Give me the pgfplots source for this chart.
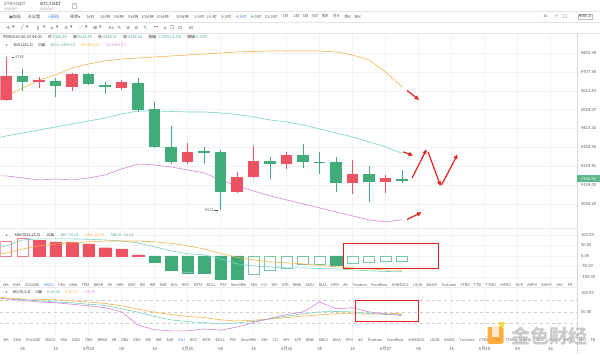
\documentclass[border=0pt]{standalone}
\usepackage{fontspec}
\setmainfont{Noto Sans CJK SC}
\newfontfamily\sym{DejaVu Sans}
\usepackage{pgfplots}
\usepackage{pgfplotstable}
\pgfplotsset{compat=1.18}
\usetikzlibrary{arrows.meta}
\definecolor{cred}{HTML}{EC5363}
\definecolor{cgreen}{HTML}{41AC7A}
\definecolor{cteal}{HTML}{77D2C4}
\definecolor{corange}{HTML}{F4B54A}
\definecolor{cpink}{HTML}{DA84DA}
\definecolor{cgrid}{HTML}{F1F3F5}
\definecolor{ctext}{HTML}{5A5A5A}
\definecolor{cblue}{HTML}{3D7EE6}
\definecolor{ared}{HTML}{E2231D}
\newcommand\fs[1]{\fontsize{#1}{#1}\selectfont}

% candles: i open high low close
\pgfplotstableread{
i o h l c
0 9566.7 9783.0 9560.0 9687.4
2 9657.3 9682.4 9627.1 9667.3
4 9632.1 9702.5 9612.0 9697.5
7 9627.1 9667.3 9617.0 9657.3
11 9254.9 9350.4 9244.8 9305.2
14 9104.0 9204.6 9100.0 9179.4
15 9179.4 9335.3 9175.0 9259.9
17 9244.8 9305.2 9219.6 9290.1
21 9149.2 9264.9 9093.9 9194.5
23 9154.3 9189.5 9098.9 9174.4
}\redc
\pgfplotstableread{
i o h l c
1 9687.4 9722.6 9612.0 9657.3
3 9662.3 9677.4 9581.8 9637.1
5 9697.5 9702.5 9642.2 9647.2
6 9642.2 9657.3 9596.9 9632.1
8 9652.2 9677.4 9506.4 9516.4
9 9521.4 9556.6 9325.3 9330.3
10 9330.3 9435.9 9244.8 9254.9
12 9310.2 9330.3 9244.8 9300.1
13 9305.2 9315.2 9011.0 9104.0
16 9259.9 9280.0 9169.3 9244.8
18 9290.1 9345.4 9224.7 9254.9
19 9254.9 9305.2 9194.5 9249.8
20 9254.9 9280.0 9104.0 9149.2
22 9194.5 9234.7 9053.6 9154.3
24 9166.86 9216.45 9148.67 9164.33
}\greenc
\pgfplotstableread{
i ub mid lb
-0.4 9569.2 9378.1 9184.4
0 9586.8 9385.6 9184.4
1 9627.1 9400.7 9174.4
2 9667.3 9415.8 9164.3
3 9692.5 9430.9 9169.3
4 9727.5 9446.0 9164.3
5 9747.8 9461.1 9174.4
6 9762.9 9476.2 9189.5
7 9772.9 9496.3 9219.6
8 9778.0 9511.4 9244.8
9 9783.0 9511.4 9239.8
10 9788.0 9508.9 9229.7
11 9793.1 9506.4 9214.6
12 9798.1 9506.4 9199.5
13 9803.1 9501.3 9164.3
14 9808.2 9493.8 9134.1
15 9810.7 9481.2 9109.0
16 9813.2 9466.1 9083.8
17 9813.2 9456.1 9063.7
18 9813.2 9441.0 9043.6
19 9813.2 9420.9 9023.4
20 9808.2 9400.7 9003.3
21 9793.1 9380.6 8983.2
22 9767.9 9355.5 8963.1
23 9707.6 9330.3 8953.1
24 9632.27 9298.44 8964.51
}\boll
\pgfplotstableread{
i dif dea
-0.4 40 8
0 48 14
1 76 33
2 81 48
3 81 57
4 81 62
5 79 67
6 76 71
7 71 71
8 62 71
9 43 67
10 24 60
11 10 48
12 5 33
13 -14 12
14 -38 -7
15 -48 -19
16 -52 -29
17 -57 -33
18 -57 -38
19 -60 -45
20 -62 -52
21 -67 -57
22 -71 -62
23 -74 -67
24 -75.63 -68.59
}\macdl
\pgfplotstableread{
i k d j
-0.4 85 88 85
0 84 87 84
1 82 84 80
2 79 83 76
3 76 82 74
4 74 79 70
5 70 76 66
6 67 72 61
7 58 66 50
8 49 57 15
9 38 49 3
10 29 43 0
11 24 38 0
12 22 35 5
13 18 29 2
14 21 26 10
15 25 28 22
16 32 31 33
17 39 35 43
18 45 39 50
19 50 42 76
20 51 45 58
21 50 45 61
22 46 44 50
23 43 45 45
24 43.56 46.17 39.76
}\kdj

\pgfplotsset{panel/.style={scale only axis, width=577pt, xmin=-0.3636, xmax=34.606,
  axis line style={draw=none}, major tick length=0pt,
  xtick={1,3,...,33}, xticklabels={}, xmajorgrids, ymajorgrids,
  grid style={cgrid, line width=0.5pt},
  yticklabel pos=right,
  yticklabel style={font=\fs{4.2}, text=ctext, anchor=west, xshift=0.5pt}},
  candle/.style={draw=none, mark=none, error bars/.cd, y dir=both, y explicit, error mark=none,
  error bar style={line width=#1}}}

\begin{document}
\begin{tikzpicture}
\begin{scope}[x=1pt,y=-1pt]
\path[use as bounding box] (0,0) rectangle (600,354);
\clip (0,0) rectangle (600,354);
\fill[white] (0,0) rectangle (600,354);
\end{scope}

% ---------- main price panel
\begin{axis}[panel, at={(0pt,-34pt)}, anchor=north west, height=193pt,
  ymin=8927.9, ymax=9898.7,
  ytick={9044.29,9139.05,9233.81,9328.56,9423.32,9518.07,9612.83,9707.58,9802.34},
  yticklabels={9044.29,9139.05,9233.81,9328.56,9423.32,9518.07,9612.83,9707.58,9802.34}]
\addplot[corange, line width=0.6pt] table[x=i,y=ub]{\boll};
\addplot[cteal, line width=0.6pt] table[x=i,y=mid]{\boll};
\addplot[cpink, line width=0.6pt] table[x=i,y=lb]{\boll};
% wicks
\addplot[candle=0.7pt, error bar style={draw=cred}]
  table[x=i, y expr={(\thisrow{h}+\thisrow{l})/2}, y error expr={(\thisrow{h}-\thisrow{l})/2}]{\redc};
\addplot[candle=0.7pt, error bar style={draw=cgreen}]
  table[x=i, y expr={(\thisrow{h}+\thisrow{l})/2}, y error expr={(\thisrow{h}-\thisrow{l})/2}]{\greenc};
% bodies
\addplot[candle=11.5pt, error bar style={draw=cred}]
  table[x=i, y expr={(\thisrow{o}+\thisrow{c})/2}, y error expr={max(abs(\thisrow{o}-\thisrow{c})/2,2.5)}]{\redc};
\addplot[candle=11.5pt, error bar style={draw=cgreen}]
  table[x=i, y expr={(\thisrow{o}+\thisrow{c})/2}, y error expr={max(abs(\thisrow{o}-\thisrow{c})/2,2.5)}]{\greenc};
\draw[ctext, line width=0.4pt] (axis cs:0.36,9783) -- (axis cs:0.5,9783) node[right, inner sep=0.6pt, font=\fs{3.8}, text=ctext]{9783};
\draw[ctext, line width=0.4pt] (axis cs:12.85,9011) -- (axis cs:12.62,9011) node[left, inner sep=0.6pt, font=\fs{3.8}, text=ctext]{9011};
\end{axis}

% ---------- MACD panel
\begin{axis}[panel, at={(0pt,-228pt)}, anchor=north west, height=55pt,
  ymin=-128.5, ymax=133.3,
  ytick={-100,-50,0,50,100}, yticklabels={-100.00,-50.00,0.00,50.00,100.00}]
\addplot[ybar, bar width=11.5pt, bar shift=0pt, fill=cred, draw=cred] coordinates
 {(2,74) (3,67) (4,65) (5,57) (6,39) (7,33) (8,5)};
\addplot[ybar, bar width=10.9pt, bar shift=0pt, fill=white, draw=cred!75, line width=0.6pt] coordinates
 {(0,71) (1,86)};
\addplot[ybar, bar width=11.5pt, bar shift=0pt, fill=cgreen, draw=cgreen] coordinates
 {(9,-30) (10,-67) (11,-80) (12,-82) (13,-110) (14,-110) (20,-43)};
\addplot[ybar, bar width=10.9pt, bar shift=0pt, fill=white, draw=cgreen!70, line width=0.6pt] coordinates
 {(15,-87) (16,-68) (17,-58) (18,-40) (19,-40) (21,-35) (22,-31) (23,-27) (24,-24.04)};
\addplot[cteal, line width=0.6pt] table[x=i,y=dif]{\macdl};
\addplot[corange, line width=0.6pt] table[x=i,y=dea]{\macdl};
\end{axis}

% ---------- KDJ panel
\begin{axis}[panel, at={(0pt,-287pt)}, anchor=north west, height=47pt,
  ymin=-7.9, ymax=115.8, ymajorgrids=false,
  ytick={50,100}, yticklabels={50.00,100.00},
  extra y ticks={20,50,80}, extra y tick labels={},
  extra y tick style={grid=major, major grid style={dashed, draw=gray!40, line width=0.5pt}},
  xticklabels={08,16,6月24,08,16,6月25,08,16,6月26,08,16,6月27,08,16,6月28,08,16},
  xticklabel style={font=\fs{4.2}, text=ctext, yshift=-10pt}]
\addplot[corange, line width=0.6pt] table[x=i,y=d]{\kdj};
\addplot[cteal, line width=0.6pt] table[x=i,y=k]{\kdj};
\addplot[cpink, line width=0.6pt] table[x=i,y=j]{\kdj};
\end{axis}

% ---------- overlays (pixel coordinates)
\begin{scope}[x=1pt,y=-1pt]
\clip (0,0) rectangle (600,354);
% separators
\draw[gray!22, line width=0.5pt] (0,11.7) -- (600,11.7);
\draw[gray!22, line width=0.5pt] (0,22.7) -- (600,22.7);
\draw[gray!22, line width=0.5pt] (0,33.3) -- (600,33.3);
\draw[gray!30, line width=0.5pt] (577,33.3) -- (577,354);
\draw[gray!15, line width=0.5pt] (0,228) -- (577,228);
\draw[gray!15, line width=0.5pt] (0,287) -- (577,287);
% tabs
\node[anchor=west, inner sep=0, font=\fs{4.3}, text=ctext] at (4,4.3) {ETH/USDT};
\node[anchor=west, inner sep=0, font=\fs{3.3}, text=gray!70] at (4,8.8) {永续合约};
\node[anchor=west, inner sep=0, font=\fs{4.3}, text=black!85] at (40,4.3) {BTC/USDT};
\node[anchor=west, inner sep=0, font=\fs{3.3}, text=gray!70] at (40,8.8) {永续合约};
\node[draw=gray!45, line width=0.3pt, minimum size=4.5pt, inner sep=0, font=\fs{3.5}, text=gray] at (74,5.5) {+};
% toolbar row 2
\node[font=\fs{4.2}, text=ctext] at (15,16.5) {{\sym\fs{4}▣}指标};
\node[font=\fs{4.2}, text=ctext] at (34,16.5) {{\sym\fs{4}⚙}设置};
\node[font=\fs{4.2}, text=cblue] at (53,16.5) {{\sym\fs{4}↗}画线};
\node[font=\fs{4.2}, text=ctext] at (75,16.5) {周期{\sym\fs{3.5}▾}};
\foreach \x/\t in {90.5/分时,105/1分钟,118.5/3分钟,133/5分钟,147.5/10分钟,162.5/15分钟,182.5/30分钟,199/1小时,211.5/2小时,226/3小时,256/6小时,271/12小时,285.5/1日,296.5/2日,305.5/3日,315/5日,325/周K,336/月K,347.5/季K,357.5/年K}
  \node[font=\fs{4}, text=ctext, inner sep=0] at (\x,16.5) {\t};
\node[font=\fs{4}, text=cblue, inner sep=0] at (241,16.5) {4小时};
\node[font=\fs{4}, text=ctext, inner sep=0] at (545.5,16.5) {1s};
\node[font=\sym\fs{4.5}, text=ctext, inner sep=0] at (556.5,16.5) {⊹};
\node[font=\sym\fs{4.5}, text=ctext, inner sep=0] at (565,16.5) {☐};
\node[draw=gray!50, line width=0.3pt, font=\fs{3.8}, text=ctext, inner sep=0.8pt] at (585,16.5) {单窗口{\sym\fs{3}▾}};
% toolbar row 3 icons
\foreach \x/\t in {8/✛,13/▾,22/╱,27/▾,38/∥,44/▾,52/⊾,57/▾,66/≡,71/▾,80/⋰,86/▾,95/⊞,100/▾,119/✎,128/⊘,136/⊘,156/⊶,165/⌂,172/❐,180/⊡,191/⊟}
  \node[font=\sym\fs{4.6}, text=ctext, inner sep=0] at (\x,27.8) {\t};
\node[font=\fs{4.3}, text=ctext, inner sep=0] at (111,27.8) {Aa};
\node[font=\sym\fs{4.6}, text=cblue, inner sep=0] at (145,27.8) {✎};
% info lines
\node[anchor=west, inner sep=0, font=\fs{3.9}, text=black!80] at (3,37.6)
 {\makebox[204pt][l]{时间2020-06-27 04:00\hfill 开:\textcolor{cgreen}{9166.86}\hfill 高:\textcolor{cgreen}{9216.45}\hfill 低:\textcolor{cgreen}{9148.67}\hfill 收:\textcolor{cgreen}{9164.33}\hfill 涨幅:\textcolor{cgreen}{-0.03\%(-2.53)}\hfill 振幅:\textcolor{cgreen}{0.74\%}}};
\node[anchor=west, inner sep=0, font=\fs{3.8}, text=black!80] at (5,45.2)
 {\makebox[120pt][l]{{\sym\fs{3.4}∨}\hfill BOLL(20,2)\hfill{\sym\fs{4}⊡}{\sym\fs{4}⊠}\hfill\textcolor{cteal!80!black}{BOLL:9298.44}\hfill\textcolor{corange}{UB:9632.27}\hfill\textcolor{cpink}{LB:8964.51}}};
\node[anchor=west, inner sep=0, font=\fs{3.8}, text=black!80] at (5,235.3)
 {\makebox[128pt][l]{{\sym\fs{3.4}∨}\hfill MACD(12,26,9)\hfill{\sym\fs{4}⊡}{\sym\fs{4}⊠}\hfill\textcolor{cteal!80!black}{DIF:-75.63}\hfill\textcolor{corange}{DEA:-68.59}\hfill\textcolor{cteal!80!black}{MACD:-24.04}}};
\node[anchor=west, inner sep=0, font=\fs{3.8}, text=black!80] at (5,292.5)
 {\makebox[90pt][l]{{\sym\fs{3.4}∨}\hfill KDJ(9,3,3)\hfill{\sym\fs{4}⊡}{\sym\fs{4}⊠}\hfill\textcolor{cteal!80!black}{K:43.56}\hfill\textcolor{corange}{D:46.17}\hfill\textcolor{cpink}{J:39.76}}};
% indicator rows
\node[anchor=west, inner sep=0, font=\fs{3.7}, text=ctext] at (3,285.6)
 {\makebox[569pt][l]{MA\hfill EMA\hfill VOLUME\hfill\textcolor{cblue}{MACD}\hfill DMI\hfill DMA\hfill TRIX\hfill BRAR\hfill VR\hfill OBV\hfill EMV\hfill RSI\hfill WR\hfill SAR\hfill KDJ\hfill ROC\hfill MTM\hfill BOLL\hfill PSY\hfill StochRSI\hfill SMI\hfill CCI\hfill MFI\hfill ATR\hfill BBW\hfill SKDJ\hfill BIAS\hfill DPO\hfill AO\hfill Position\hfill Fundflow\hfill AHMSVOL\hfill LSUR\hfill BASIS\hfill Tvolume\hfill FTBS\hfill TTSI\hfill TTMU\hfill AHSGI\hfill MLR\hfill AHPD\hfill AHDFI\hfill AHJ\hfill FR}};
\node[anchor=west, inner sep=0, font=\fs{3.7}, text=ctext] at (3,340.6)
 {\makebox[592pt][l]{MA\hfill EMA\hfill VOLUME\hfill MACD\hfill DMI\hfill DMA\hfill TRIX\hfill BRAR\hfill VR\hfill OBV\hfill EMV\hfill RSI\hfill WR\hfill SAR\hfill\textcolor{cblue}{KDJ}\hfill ROC\hfill MTM\hfill BOLL\hfill PSY\hfill StochRSI\hfill SMI\hfill CCI\hfill MFI\hfill ATR\hfill BBW\hfill SKDJ\hfill BIAS\hfill DPO\hfill AO\hfill Position\hfill Fundflow\hfill AHMSVOL\hfill LSUR\hfill BASIS\hfill Tvolume\hfill FTBS\hfill TTSI\hfill TTMU\hfill AHSGI\hfill MLR\hfill AHPD\hfill AHDFI\hfill AHJ\hfill FR}};
% current price tag
\node[fill=cgreen!85, text=white, anchor=west, inner sep=0.6pt, minimum height=6.5pt, minimum width=23pt, font=\fs{4}] at (577,178.8) {9164.33};
% red annotations
\draw[ared, line width=1pt] (343,244) rectangle (438,269);
\draw[ared, line width=1pt] (355,301) rectangle (418,322);
\begin{scope}[ared, line width=1.2pt, -{Triangle[length=4.5pt,width=4pt]}]
\draw (407,90.5) -- (419,100);
\draw (403,152) -- (413,155.5);
\draw (412,178) -- (426.5,149.5);
\draw (428,152) -- (440.5,186);
\draw (441.5,185) -- (457.5,154.5);
\draw (407,219.5) -- (421.5,212.5);
\end{scope}
% watermark logo
\begin{scope}[opacity=0.75]
\fill[orange!85!yellow, rounded corners=1.5pt] (487.5,327) rectangle (503.5,344);
\fill[white] (492,327) rectangle (498.5,337.5);
\fill[yellow!70!orange] (498.5,322.5) rectangle (503.5,327.5);
\node[anchor=west, inner sep=0, font=\fs{19}\bfseries, text=gray!55] at (511,336) {金色财经};
\end{scope}
\end{scope}
\end{tikzpicture}
\end{document}
